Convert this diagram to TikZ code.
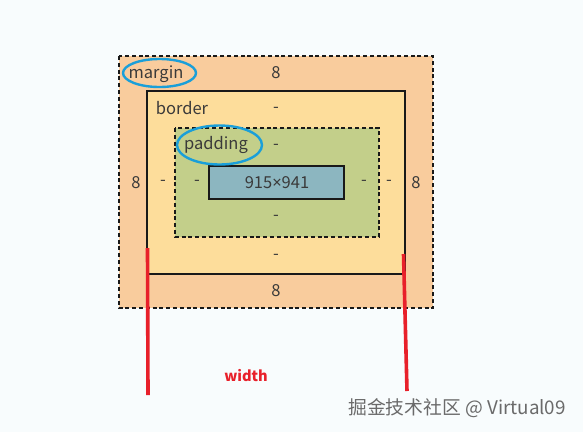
\documentclass[tikz,border=0pt]{standalone}
\usepackage{fontspec}
\setmainfont{Noto Sans CJK SC}
\newfontfamily\narrowfont{Noto Sans}
\usepackage{tikz}
\usetikzlibrary{positioning, shapes}
\definecolor{bgwhite}{HTML}{F8FCFD}
\definecolor{marginorange}{HTML}{F9CC9D}
\definecolor{borderyellow}{HTML}{FDDD9B}
\definecolor{paddinggreen}{HTML}{C3CF8A}
\definecolor{contentblue}{HTML}{8CB6C0}
\definecolor{ringblue}{HTML}{1A9FD9}
\definecolor{markred}{HTML}{E8202A}
\definecolor{labelgray}{HTML}{3A3A3A}
\definecolor{stampgray}{HTML}{6A6A6A}

\begin{document}
\begin{tikzpicture}[x=1pt, y=-1pt,
	every node/.style={font=\fontsize{16.5}{18}\selectfont, text=labelgray, inner sep=0pt},
	boxdash/.style={draw=black!90, line width=1.3pt, dash pattern=on 4pt off 2.8pt},
	ring/.style={draw=ringblue, line width=2.4pt},
	redbar/.style={draw=markred, line width=3.6pt}]
	\fill[bgwhite] (0,0) rectangle (583,432);
	\useasboundingbox (0,0) rectangle (583,432);
	% boxes
	\draw[boxdash, fill=marginorange] (119,56) rectangle (433,308);
	\draw[black!90, line width=1.3pt, fill=borderyellow] (147,91) rectangle (405,274);
	\draw[boxdash, fill=paddinggreen] (175,128) rectangle (379,237);
	\draw[black!90, line width=1.3pt, fill=contentblue] (209,166) rectangle (344,199);
	% labels
	\node (marginname) at (156,74) {margin};
	\node (margintop) at (276,73) {8};
	\node (bordername) at (182,108) {border};
	\node (bordertop) at (276,110) {-};
	\node (paddingname) at (216,145) {padding};
	\node (paddingtop) at (276,147) {-};
	\node (content) at (277,183) {915{\narrowfont ×}941};
	\node (paddingbottom) at (276,218) {-};
	\node (borderbottom) at (276,257) {-};
	\node (marginbottom) at (276,291) {8};
	\node (marginleft) at (136,183) {8};
	\node (borderleft) at (163,183) {-};
	\node (paddingleft) at (197,183) {-};
	\node (paddingright) at (364,183) {-};
	\node (borderright) at (389,183) {-};
	\node (marginright) at (416,183) {8};
	% marks
	\draw[ring] (159.5,73) ellipse (36.5 and 14);
	\draw[ring] (219.5,145) ellipse (42.5 and 19.5);
	\draw[redbar] (147.5,248) -- (148,395);
	\draw[redbar] (403.5,254) -- (407,391);
	\node[text=markred, font=\fontsize{14.6}{16}\selectfont\bfseries] (widthname) at (246,376) {width};
	\node[text=stampgray, font=\fontsize{18.8}{20}\selectfont] (stamp) at (457,408) {掘金技术社区 @ Virtual09};
\end{tikzpicture}
\end{document}
